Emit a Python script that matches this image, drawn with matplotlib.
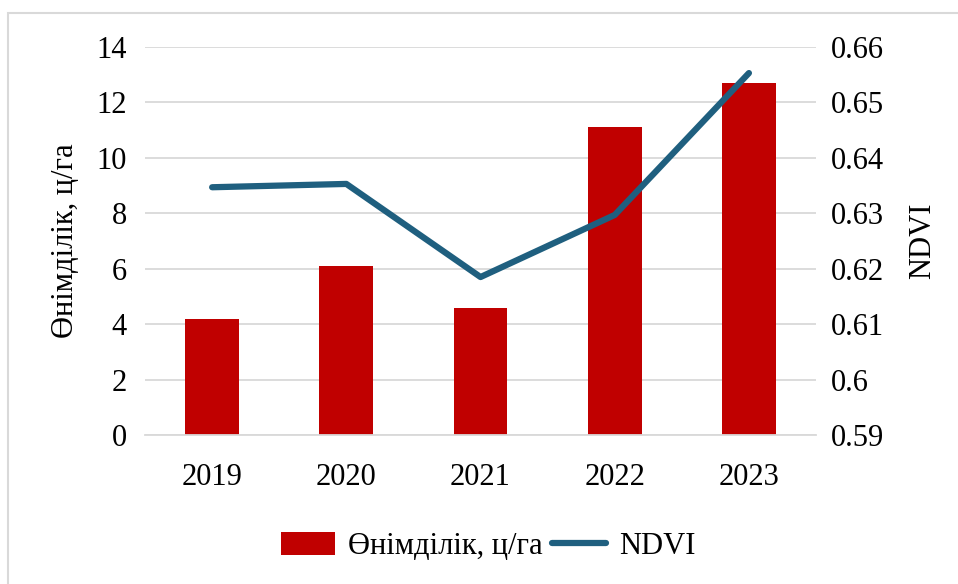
import numpy as np
import matplotlib.pyplot as plt
from matplotlib.patches import Rectangle

plt.rcParams['font.family'] = ['Liberation Serif', 'DejaVu Serif']

years = ['2019', '2020', '2021', '2022', '2023']
yield_cha = [4.2, 6.1, 4.6, 11.1, 12.7]
ndvi = [0.6347, 0.6353, 0.6185, 0.6297, 0.6553]

bar_color = '#C00000'
line_color = '#1F5F7F'
grid_color = '#D9D9D9'
fs = 22

fig = plt.figure(figsize=(9.58, 5.84), dpi=100)
ax = fig.add_axes([0.1514, 0.2551, 0.7004, 0.6644])
ax2 = ax.twinx()

x = np.arange(len(years))
ax.bar(x, yield_cha, width=0.4, color=bar_color, zorder=2, label='Өнімділік, ц/га')
ax2.plot(x, ndvi, color=line_color, linewidth=4.5, solid_capstyle='round', label='NDVI', zorder=3)

ax.set_xlim(-0.5, len(years) - 0.5)
ax.set_ylim(0, 14)
ax.set_yticks(np.arange(0, 15, 2))
ax2.set_ylim(0.59, 0.66)
ax2.set_yticks(np.arange(0.59, 0.6601, 0.01))
ax2.set_yticklabels(['0.59', '0.6', '0.61', '0.62', '0.63', '0.64', '0.65', '0.66'])
ax.set_xticks(x)
ax.set_xticklabels(years)

ax.grid(axis='y', color=grid_color, linewidth=1.3, zorder=0)
for a in (ax, ax2):
    for s in a.spines.values():
        s.set_visible(False)
ax.spines['bottom'].set_visible(True)
ax.spines['bottom'].set_color(grid_color)
ax.spines['bottom'].set_linewidth(1.3)

ax.tick_params(axis='y', length=0, pad=13, labelsize=fs)
ax.tick_params(axis='x', length=0, pad=20, labelsize=fs)
ax2.tick_params(axis='y', length=0, pad=11, labelsize=fs)

ax.set_ylabel('Өнімділік, ц/га', fontsize=fs, labelpad=12)
ax2.set_ylabel('NDVI', fontsize=fs, labelpad=17)

ax.set_zorder(ax2.get_zorder() - 1)
ax.patch.set_visible(False)

h1, l1 = ax.get_legend_handles_labels()
h2, l2 = ax2.get_legend_handles_labels()
fig.legend(h1 + h2, l1 + l2, loc='center', bbox_to_anchor=(0.51, 0.064), ncol=2,
           frameon=False, fontsize=fs, handlelength=1.75, handleheight=0.8,
           columnspacing=0.3, handletextpad=0.45)

fig.patches.append(Rectangle((8 / 958, -0.01), 1.0, 1 - 13 / 584 + 0.01, transform=fig.transFigure,
                             fill=False, edgecolor='#D9D9D9', linewidth=1.5))

fig.savefig('out.png', dpi=100)
